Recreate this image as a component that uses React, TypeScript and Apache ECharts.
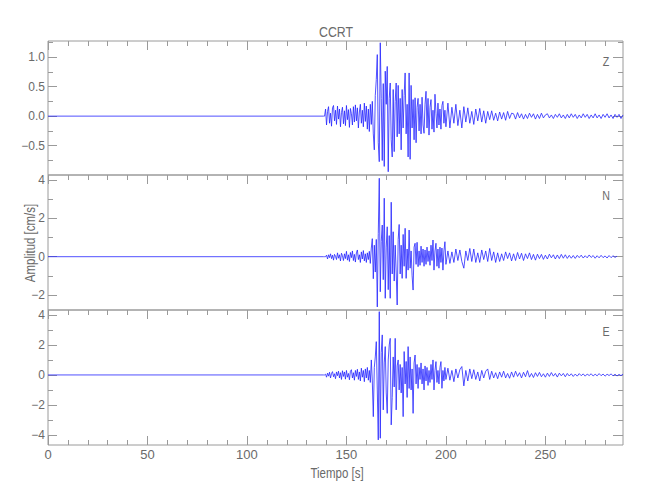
import React, { useEffect, useRef } from "react";
import * as echarts from "echarts";

const TITLE = "CCRT";
const X_NAME = "Tiempo [s]";
const Y_NAME = "Amplitud [cm/s]";
const COMPONENTS = ["Z", "N", "E"];

const X_MIN = 0;
const X_MAX = 289;
const X_MAJOR = [0, 50, 100, 150, 200, 250];
const X_MINOR = [10, 20, 30, 40, 60, 70, 80, 90, 110, 120, 130, 140, 160, 170, 180, 190, 210, 220, 230, 240, 260, 270, 280];

const Y_RANGES = [
  [-0.995, 1.27],
  [-2.78, 4.26],
  [-4.67, 4.33],
];
const Y_MAJOR = [
  [-0.5, 0, 0.5, 1],
  [-2, 0, 2, 4],
  [-4, -2, 0, 2, 4],
];
const Y_MINOR = [
  [-0.75, -0.25, 0.25, 0.75, 1.25],
  [-1, 1, 3],
  [-3, -1, 1, 3],
];
const Y_DECIMALS = [1, 0, 0];

// time sampling of the traces (s)
const PRE_END = 138.5;
const STRONG_START = 139;
const STRONG_DT = 0.5;
const CODA_START = 201;
const CODA_DT = 1;

// Z component, 139.0 – 200.0 s, every 0.5 s
const zStrong = [
  0.0, 0.12, -0.15, 0.08, 0.16, -0.12, 0.05, -0.17, 0.14, 0.18,
  -0.08, 0.1, -0.14, 0.17, -0.05, 0.12, -0.18, 0.06, 0.15, -0.13,
  0.09, -0.16, 0.18, -0.06, 0.11, -0.19, 0.13, 0.04, -0.15, 0.16,
  -0.1, 0.19, -0.08, 0.14, -0.2, 0.07, 0.2, -0.12, 0.1, -0.18,
  0.22, -0.09, 0.17, -0.22, 0.12, -0.26, 0.2, -0.14, 0.25, -0.3,
  -0.57, 0.35, 0.62, 1.04, -0.45, -0.77, 1.24, 0.3, -0.75, 0.55,
  -0.85, 0.76, 0.2, 0.84, -0.94, 0.3, 0.56, -0.4, -0.69, 0.45,
  -0.6, 0.25, 0.56, -0.35, 0.52, -0.3, 0.3, -0.57, 0.45, -0.2,
  0.35, 0.73, -0.3, 0.2, -0.69, 0.73, -0.73, 0.52, -0.2, 0.28,
  -0.4, 0.31, -0.45, 0.15, 0.3, -0.25, 0.2, -0.3, 0.32, -0.15,
  -0.29, 0.2, 0.42, -0.2, 0.3, -0.32, 0.15, 0.28, -0.22, 0.1,
  -0.27, 0.37, 0.05, -0.2, 0.22, -0.15, 0.12, -0.22, 0.18, 0.25,
  -0.12, 0.1, -0.18,
];
// Z component, 201 – 289 s, every 1 s
const zCoda = [
  0.22, -0.2, 0.15, -0.12, 0.2, -0.16, 0.1, -0.2, 0.16, -0.1,
  0.14, -0.12, 0.08, -0.14, 0.12, -0.08, 0.13, -0.1, 0.09, -0.12,
  0.08, -0.06, 0.09, -0.07, 0.05, -0.08, 0.07, -0.05, 0.06, -0.07, 0.08, -0.04, 0.05,
  0.04, -0.05, 0.06, -0.03, 0.04, -0.05, 0.03, -0.04, 0.05, -0.02, 0.04, -0.05, 0.03, -0.04, 0.05, -0.03, 0.02,
  0.04, -0.03, 0.02, -0.04, 0.03, -0.02, 0.04, -0.03, 0.02, -0.04, 0.03, -0.03, 0.04, -0.02, 0.03, -0.04, 0.02, -0.03, 0.04, -0.02,
  0.03, -0.04, 0.02, -0.03, 0.04, -0.03, 0.02, -0.04, 0.03, -0.02, 0.04, -0.03, 0.02, -0.04, 0.03, -0.02, 0.03, -0.04, 0.02,
];

// N component, 139.0 – 200.0 s, every 0.5 s
const nStrong = [
  0.0, 0.0, 0.08, -0.12, 0.1, -0.05, 0.15, -0.1, 0.08, -0.18,
  0.12, 0.02, -0.15, 0.2, -0.08, 0.1, -0.22, 0.18, 0.05, -0.2,
  0.15, -0.1, 0.28, -0.18, 0.1, -0.25, 0.22, -0.05, 0.3, -0.2,
  0.12, -0.28, 0.2, 0.35, -0.15, 0.1, -0.3, 0.25, -0.12, 0.32,
  -0.22, 0.15, -0.3, 0.2, -0.15, 0.28, -0.35, 0.45, 0.94, -1.15,
  0.6, -0.8, 0.9, -2.62, 1.2, 4.09, -1.83, 0.8, 1.65, -1.2,
  3.05, -2.17, 0.5, 1.56, -1.72, 1.1, -2.17, 2.84, -0.9, 1.3,
  -1.27, 0.6, -0.8, -2.52, 0.9, 1.68, -0.9, 0.6, -1.13, 1.16,
  -0.5, 1.48, -1.13, 0.4, -0.7, 1.39, -0.6, 0.3, -1.0, -1.74,
  0.5, 0.7, -0.4, 0.75, -0.52, 0.3, -0.45, 0.55, -0.3, 0.4,
  -0.5, 0.35, -0.4, 0.5, -0.25, 0.3, -0.45, 0.6, -0.2, 0.87,
  -0.7, 0.3, 0.7, -0.5, 0.4, -0.6, 0.5, -0.3, 0.45, -0.7,
  0.3, 0.78, -0.4,
];
// N component, 201 – 286 s, every 1 s
const nCoda = [
  0.3, -0.35, 0.25, -0.3, 0.4, -0.2, 0.35, -0.25, -0.6, 0.3, -0.2, 0.43,
  -0.25, 0.4, -0.3, 0.2, -0.3, 0.35, -0.15, 0.3, -0.25, 0.43, -0.2, 0.25, -0.3,
  0.2, -0.25, 0.15, -0.2, 0.25, -0.1, 0.2, -0.22, 0.15, -0.2, 0.22, -0.12, 0.18, -0.2, 0.15, -0.1, 0.2, -0.15, 0.12, -0.18,
  0.13, -0.1, 0.12, -0.14, 0.08, -0.12, 0.13, -0.06, 0.1, -0.12, 0.09, -0.1, 0.12, -0.08, 0.1, -0.09, 0.07,
  -0.08, 0.06, -0.09, 0.07, -0.05, 0.08, -0.07, 0.05, -0.06, 0.09, -0.04, 0.06, -0.08, 0.05, -0.06, 0.07, -0.05, 0.04, -0.07, 0.06, -0.05, 0.05, -0.04, 0.03,
];

// E component, 139.0 – 200.0 s, every 0.5 s
const eStrong = [
  0.0, 0.05, -0.15, 0.12, -0.08, 0.18, -0.2, 0.1, 0.22, -0.12,
  0.08, -0.25, 0.2, -0.05, 0.25, -0.2, 0.15, -0.3, 0.28, -0.1,
  0.2, -0.28, 0.3, -0.15, 0.1, -0.32, 0.25, 0.35, -0.2, 0.15,
  -0.35, 0.3, -0.1, 0.38, -0.3, 0.2, -0.4, 0.45, -0.15, 0.3,
  -0.45, 0.4, -0.2, 0.5, -0.35, 0.3, -0.5, 1.0, -0.4, -2.78,
  0.5, 1.2, 2.22, -1.0, -4.33, 4.22, -4.22, 1.5, 2.67, -2.33,
  0.8, 1.89, -1.2, -2.56, 1.0, 2.0, 2.44, -3.33, -1.5, 1.2,
  -0.8, 2.44, -2.33, 0.6, 1.0, -1.0, 0.7, -1.2, 0.5, -2.78,
  1.56, -0.6, 0.9, -1.5, 1.89, -0.9, 1.2, -1.0, 0.4, -2.56,
  0.8, 1.33, -0.6, 0.7, -0.9, 0.5, -0.3, 0.8, -0.6, 0.4,
  -1.0, 0.6, -0.4, 0.5, -0.7, 0.3, -0.5, 0.7, -0.3, 1.0,
  -1.0, 0.3, 0.89, -0.5, 0.3, -0.6, 0.5, 0.89, -0.89, 0.3,
  -0.4, 0.5, -0.3,
];
// E component, 201 – 289 s, every 1 s
const eCoda = [
  0.45, -0.35, 0.3, -0.45, 0.4, -0.2, 0.35, 0.56, -0.73, 0.3,
  -0.4, 0.4, -0.25, 0.35, -0.3, 0.2, -0.4, 0.3, -0.2, 0.25, 0.4, -0.3,
  0.25, -0.2, 0.15, -0.25, 0.2, -0.15, 0.25, -0.2, 0.1, -0.22, 0.2, -0.15, 0.25, -0.1, 0.15, -0.2, 0.18, -0.12, 0.29, -0.15, 0.1,
  -0.17, 0.15, -0.1, 0.17, -0.12, 0.08, -0.15, 0.12, -0.1, 0.16, -0.08, 0.1, -0.14, 0.12, -0.06, 0.1, -0.12,
  0.1, -0.07, 0.08, -0.1, 0.06, -0.08, 0.09, -0.05, 0.07, -0.08, 0.06, -0.04, 0.08, -0.07, 0.05, -0.06, 0.09, -0.05, 0.06, -0.08,
  0.05, -0.04, 0.07, -0.06, 0.05, -0.07, 0.04, -0.05, 0.06,
];

const TRACES = [
  [zStrong, zCoda],
  [nStrong, nCoda],
  [eStrong, eCoda],
];

const FONT = "'Liberation Sans', Arial, sans-serif";
const AXIS_COLOR = "#9a9a9a";
const TEXT_COLOR = "#6a6a6a";
const TRACE_COLOR = "#2424ff";

const GRIDS = [
  { top: 41, height: 134 },
  { top: 175, height: 135 },
  { top: 310, height: 135 },
];
const LEFT = 48;
const RIGHT = 27;

function buildTrace(strong: number[], coda: number[]): [number, number][] {
  const pts: [number, number][] = [
    [X_MIN, 0],
    [PRE_END, 0],
  ];
  strong.forEach((v, i) => pts.push([STRONG_START + i * STRONG_DT, v]));
  coda.forEach((v, i) => pts.push([CODA_START + i * CODA_DT, v]));
  return pts;
}

function fmt(v: number, d: number) {
  const s = v.toFixed(d);
  return s.startsWith("-") ? "\u2212" + s.slice(1) : s;
}

export default function App() {
  const ref = useRef<HTMLDivElement>(null);

  useEffect(() => {
    if (!ref.current) return;
    const chart = echarts.init(ref.current, undefined, { renderer: "svg" });

    const grid = GRIDS.map((g) => ({
      left: LEFT,
      right: RIGHT,
      top: g.top,
      height: g.height,
      show: true,
      borderColor: AXIS_COLOR,
      borderWidth: 1,
      backgroundColor: "transparent",
    }));

    const xAxis: any[] = [];
    const mkX = (gridIndex: number, position: string, values: number[], len: number, labels: boolean) => ({
      type: "value",
      gridIndex,
      position,
      min: X_MIN,
      max: X_MAX,
      axisLine: { show: false, onZero: false },
      splitLine: { show: false },
      axisTick: {
        show: true,
        inside: true,
        length: len,
        customValues: values,
        lineStyle: { color: AXIS_COLOR, width: 1 },
      },
      axisLabel: labels
        ? {
            show: true,
            customValues: values,
            margin: 3,
            color: TEXT_COLOR,
            fontFamily: FONT,
            fontSize: 13,
            showMinLabel: true,
            showMaxLabel: true,
            formatter: (v: number) => String(v),
          }
        : { show: false },
    });
    for (let p = 0; p < 3; p++) {
      xAxis.push(mkX(p, "top", X_MAJOR, 9, false));
      xAxis.push(mkX(p, "top", X_MINOR, 5, false));
    }
    xAxis.push(mkX(2, "bottom", X_MAJOR, 9, true));
    xAxis.push(mkX(2, "bottom", X_MINOR, 5, false));

    const yAxis: any[] = [];
    const mkY = (p: number, position: string, values: number[], len: number, labels: boolean) => ({
      type: "value",
      gridIndex: p,
      position,
      min: Y_RANGES[p][0],
      max: Y_RANGES[p][1],
      axisLine: { show: false, onZero: false },
      splitLine: { show: false },
      axisTick: {
        show: true,
        inside: true,
        length: len,
        customValues: values,
        lineStyle: { color: AXIS_COLOR, width: 1 },
      },
      axisLabel: labels
        ? {
            show: true,
            customValues: values,
            margin: 3,
            color: TEXT_COLOR,
            fontFamily: FONT,
            fontSize: 12,
            formatter: (v: number) => fmt(v, Y_DECIMALS[p]),
          }
        : { show: false },
    });
    for (let p = 0; p < 3; p++) {
      yAxis.push(mkY(p, "left", Y_MAJOR[p], 9, true));
      yAxis.push(mkY(p, "left", Y_MINOR[p], 5, false));
      yAxis.push(mkY(p, "right", Y_MAJOR[p], 10, false));
      yAxis.push(mkY(p, "right", Y_MINOR[p], 5, false));
    }

    const series = TRACES.map(([s, c], p) => ({
      type: "line",
      xAxisIndex: p * 2,
      yAxisIndex: p * 4,
      data: buildTrace(s, c),
      showSymbol: false,
      symbol: "none",
      silent: true,
      clip: true,
      lineStyle: { color: TRACE_COLOR, width: 0.8 },
    }));

    const txt = (text: string, x: number, y: number, size: number, rotation = 0, sx = 0.82) => ({
      type: "text",
      x,
      y,
      rotation,
      scaleX: sx,
      silent: true,
      style: {
        text,
        fill: TEXT_COLOR,
        fontFamily: FONT,
        fontSize: size,
        textAlign: "center",
        textVerticalAlign: "middle",
        align: "center",
        verticalAlign: "middle",
      },
    });

    const graphic = [
      txt(TITLE, 336, 32, 15),
      txt(COMPONENTS[0], 606, 62, 13),
      txt(COMPONENTS[1], 606, 196, 13),
      txt(COMPONENTS[2], 606, 332, 13),
      txt(Y_NAME, 30, 243, 14, Math.PI / 2),
      txt(X_NAME, 337, 473, 14),
    ];

    chart.setOption({
      animation: false,
      backgroundColor: "#ffffff",
      textStyle: { fontFamily: FONT },
      grid,
      xAxis,
      yAxis,
      series,
      graphic,
    });

    return () => chart.dispose();
  }, []);

  return (
    <div
      ref={ref}
      style={{ position: "absolute", left: 0, top: 0, width: 650, height: 500 }}
    />
  );
}
